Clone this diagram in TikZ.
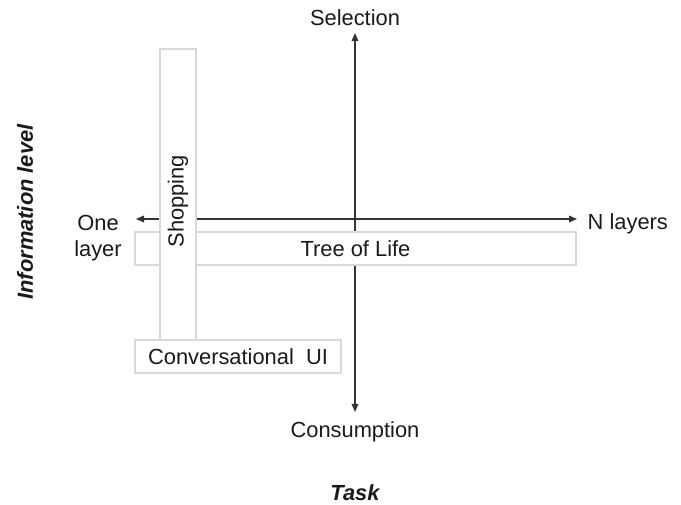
\documentclass[tikz,border=0pt]{standalone}
\usepackage{fontspec}
\setmainfont{Liberation Sans}
\usetikzlibrary{arrows.meta}
\definecolor{axiscolor}{HTML}{333333}
\definecolor{boxcolor}{HTML}{D9D9D9}
\definecolor{textcolor}{HTML}{1A1A1A}
\tikzset{
    label text/.style={text=textcolor, font=\fontsize{16.4}{19}\selectfont},
    title text/.style={text=textcolor, font=\fontsize{16.4}{19}\selectfont\bfseries\itshape},
    region box/.style={draw=boxcolor, fill=white, line width=0.9pt, inner sep=0pt, label text},
    axis/.style={draw=axiscolor, line width=0.9pt, -{Triangle[length=6pt,width=5pt]}}
}

\begin{document}
\begin{tikzpicture}[x=0.75pt, y=-0.75pt]

    \useasboundingbox (0,0) rectangle (681,505);

    % Axes
    \coordinate (origin) at (355,219);
    \coordinate (top) at (355,33);
    \coordinate (bottom) at (355,412);
    \coordinate (left) at (136,219);
    \coordinate (right) at (577,219);
    \draw[axis] (origin) -- (top);
    \draw[axis] (origin) -- (bottom);
    \draw[axis] (origin) -- (left);
    \draw[axis] (origin) -- (right);

    % Axis ends
    \node[label text] (selection) at (355,18) {Selection};
    \node[label text] (consumption) at (355,432) {Consumption};
    \node[label text, anchor=west] (nlayers) at (583,224) {N layers};
    \node[label text, align=center] (onelayer) at (98,238) {One\\layer};

    % Axis titles
    \node[title text, rotate=90] (infolevel) at (25,212) {Information level};
    \node[title text] (task) at (355,493) {Task};

    % Regions
    \node[region box, minimum width=330.75pt, minimum height=24.75pt] (treeoflife) at (355.5,248.5) {Tree of Life};
    \node[region box, rotate=90, minimum width=218.25pt, minimum height=27pt] (shopping) at (178,194.5) {Shopping\kern10pt};
    \node[region box, minimum width=154.5pt, minimum height=24.75pt] (conversational) at (238,356.5) {Conversational\ \ UI};

\end{tikzpicture}
\end{document}
